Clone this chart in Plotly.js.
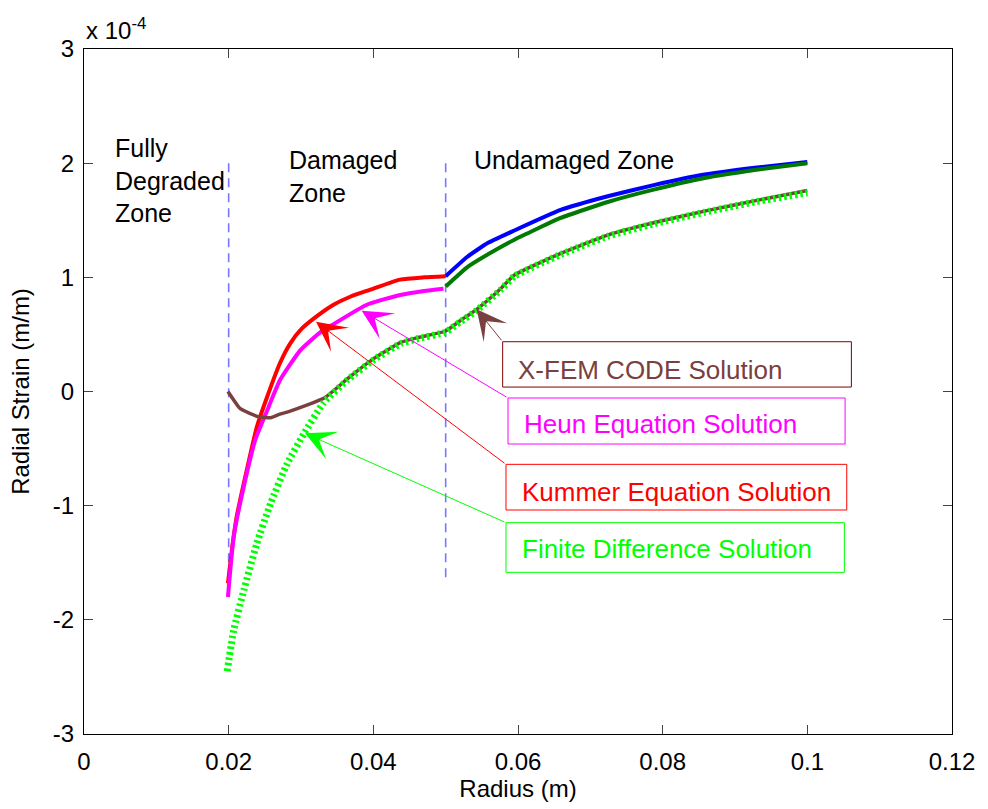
<!DOCTYPE html>
<html>
<head>
<meta charset="utf-8">
<script src="https://cdn.plot.ly/plotly-3.0.1.min.js"></script>
<style>html,body{margin:0;padding:0;background:#fff;}#chart{width:988px;height:809px;}</style>
</head>
<body>
<div id="chart"></div>
<script>
// Values (radial strain in units of 1e-4)
const kummerDamX = [0.0199, 0.0205, 0.0211, 0.0225, 0.0239, 0.0253, 0.0271, 0.0285, 0.0301, 0.0322, 0.0345, 0.0368, 0.0395, 0.0437, 0.0470, 0.0500];
const kummerDamY = [-1.68, -1.36, -1.10, -0.69, -0.31, -0.05, 0.25, 0.42, 0.55, 0.66, 0.76, 0.83, 0.89, 0.98, 1.00, 1.01];

const heunDamX = [0.0199, 0.0207, 0.0221, 0.0237, 0.0253, 0.0271, 0.0299, 0.0327, 0.0345, 0.0391, 0.0437, 0.0470, 0.0497];
const heunDamY = [-1.80, -1.27, -0.83, -0.42, -0.17, 0.10, 0.36, 0.52, 0.59, 0.76, 0.845, 0.88, 0.90];

const kummerUndX = [0.0500, 0.0530, 0.0558, 0.0595, 0.0659, 0.0724, 0.0789, 0.0858, 0.0927, 0.1000];
const kummerUndY = [1.01, 1.18, 1.30, 1.41, 1.59, 1.71, 1.81, 1.90, 1.96, 2.01];

const heunUndX = [0.0500, 0.0530, 0.0558, 0.0595, 0.0659, 0.0724, 0.0789, 0.0858, 0.0927, 0.1000];
const heunUndY = [0.92, 1.09, 1.20, 1.33, 1.52, 1.66, 1.77, 1.87, 1.94, 2.00];

const xfemX = [0.0199, 0.0216, 0.0241, 0.0258, 0.0270, 0.0281, 0.0308, 0.0334, 0.0364, 0.0401, 0.0438, 0.0460, 0.0500, 0.0520, 0.0543, 0.0576, 0.0595, 0.0659, 0.0724, 0.0789, 0.0858, 0.0927, 0.1000];
const xfemY = [0.00, -0.15, -0.22, -0.23, -0.20, -0.18, -0.12, -0.05, 0.11, 0.29, 0.43, 0.47, 0.53, 0.62, 0.72, 0.90, 1.02, 1.21, 1.37, 1.48, 1.58, 1.67, 1.76];

const fdX = [0.0198, 0.0207, 0.0221, 0.0239, 0.0258, 0.0281, 0.0304, 0.0331, 0.0364, 0.0401, 0.0438, 0.0460, 0.0500, 0.0520, 0.0543, 0.0576, 0.0595, 0.0659, 0.0724, 0.0789, 0.0858, 0.0927, 0.1000];
const fdY = [-2.45, -2.09, -1.74, -1.33, -0.98, -0.63, -0.37, -0.10, 0.10, 0.28, 0.42, 0.46, 0.52, 0.61, 0.71, 0.89, 1.01, 1.20, 1.36, 1.47, 1.57, 1.66, 1.74];

const zoneBoundX = [0.02, 0.05];
const zoneBoundY = [2.0, -1.68];

const xTicks = [0, 0.02, 0.04, 0.06, 0.08, 0.1, 0.12];
const xTickText = ['0', '0.02', '0.04', '0.06', '0.08', '0.1', '0.12'];
const yTicks = [-3, -2, -1, 0, 1, 2, 3];
const yTickText = ['-3', '-2', '-1', '0', '1', '2', '3'];

const FONT = 'Liberation Sans, Arial, Helvetica, sans-serif';

const traces = [];
zoneBoundX.forEach(function (xv) {
  traces.push({x: [xv, xv], y: zoneBoundY, mode: 'lines', line: {color: '#7878ff', width: 1.6, dash: '9px,6px'}, hoverinfo: 'skip'});
});
traces.push({x: kummerUndX, y: kummerUndY, mode: 'lines', line: {color: '#0000ff', width: 4, shape: 'spline', smoothing: 0.4}});
traces.push({x: heunUndX, y: heunUndY, mode: 'lines', line: {color: '#007a00', width: 4, shape: 'spline', smoothing: 0.4}});
traces.push({x: kummerDamX, y: kummerDamY, mode: 'lines', line: {color: '#ff0000', width: 4, shape: 'spline', smoothing: 0.5}});
traces.push({x: heunDamX, y: heunDamY, mode: 'lines', line: {color: '#ff00ff', width: 4, shape: 'spline', smoothing: 0.5}});
traces.push({x: xfemX, y: xfemY, mode: 'lines', line: {color: '#7a4040', width: 3.5, shape: 'spline', smoothing: 0.4}});
traces.push({x: fdX, y: fdY, mode: 'lines', line: {color: '#00ff00', width: 7, dash: '2.5px,3px', shape: 'spline', smoothing: 0.4}});

// label boxes: [x0, x1, y0, y1]
const boxes = [
  {name: 'X-FEM CODE Solution', color: '#7a4040', border: '#800000', box: [0.05788, 0.10609, 0.039, 0.436], ty: 0.19, tip: [0.05428, 0.720]},
  {name: 'Heun Equation Solution', color: '#ff00ff', border: '#ff00ff', box: [0.05862, 0.10522, -0.460, -0.057], ty: -0.285, tip: [0.03839, 0.708]},
  {name: 'Kummer Equation Solution', color: '#ff0000', border: '#ff0000', box: [0.05834, 0.10545, -1.038, -0.638], ty: -0.88, tip: [0.03208, 0.611]},
  {name: 'Finite Difference Solution', color: '#00ff00', border: '#00ff00', box: [0.05834, 0.10512, -1.584, -1.149], ty: -1.38, tip: [0.03055, -0.366]}
];

const shapes = [];
const annotations = [];
boxes.forEach(function (b) {
  shapes.push({type: 'rect', xref: 'x', yref: 'y', x0: b.box[0], x1: b.box[1], y0: b.box[2], y1: b.box[3], line: {color: b.border, width: 1}, fillcolor: 'rgba(0,0,0,0)'});
  annotations.push({xref: 'x', yref: 'y', x: b.box[0] + 0.0019, y: b.ty, xanchor: 'left', yanchor: 'middle', showarrow: false, text: b.name, font: {family: FONT, size: 26, color: b.color}});
  annotations.push({xref: 'x', yref: 'y', x: b.tip[0], y: b.tip[1], axref: 'x', ayref: 'y', ax: b.box[0], ay: b.box[3], text: '', showarrow: true, arrowhead: 3, arrowsize: 5, arrowwidth: 1, arrowcolor: b.color});
});

annotations.push({xref: 'x', yref: 'y', x: 0.0040, y: 2.27, xanchor: 'left', yanchor: 'top', align: 'left', showarrow: false, text: 'Fully<br>Degraded<br>Zone', font: {family: FONT, size: 25, color: '#000'}});
annotations.push({xref: 'x', yref: 'y', x: 0.0280, y: 2.17, xanchor: 'left', yanchor: 'top', align: 'left', showarrow: false, text: 'Damaged<br>Zone', font: {family: FONT, size: 25, color: '#000'}});
annotations.push({xref: 'x', yref: 'y', x: 0.0536, y: 2.17, xanchor: 'left', yanchor: 'top', align: 'left', showarrow: false, text: 'Undamaged Zone', font: {family: FONT, size: 25, color: '#000'}});
annotations.push({xref: 'paper', yref: 'paper', x: 0, y: 1, xanchor: 'left', yanchor: 'bottom', yshift: 3, showarrow: false, text: 'x 10<sup>-4</sup>', font: {family: FONT, size: 24, color: '#000'}});

const axisCommon = {
  showgrid: false, zeroline: false, showline: true, linecolor: '#000', linewidth: 1,
  mirror: 'allticks', ticks: 'inside', ticklen: 9, tickcolor: '#444', tickwidth: 1,
  tickfont: {family: FONT, size: 24, color: '#000'}
};

const layout = {
  width: 988, height: 809,
  margin: {l: 84, r: 36, t: 49, b: 75},
  paper_bgcolor: '#fff', plot_bgcolor: '#fff',
  showlegend: false,
  xaxis: Object.assign({}, axisCommon, {range: [0, 0.12], tickvals: xTicks, ticktext: xTickText, ticklabelstandoff: 6,
    title: {text: 'Radius (m)', font: {family: FONT, size: 24, color: '#000'}, standoff: 5}}),
  yaxis: Object.assign({}, axisCommon, {range: [-3, 3], tickvals: yTicks, ticktext: yTickText, ticklabelstandoff: 4,
    title: {text: 'Radial Strain (m/m)', font: {family: FONT, size: 24, color: '#000'}, standoff: 16}}),
  shapes: shapes,
  annotations: annotations
};

Plotly.newPlot('chart', traces, layout, {displayModeBar: false, staticPlot: true});
</script>
</body>
</html>
